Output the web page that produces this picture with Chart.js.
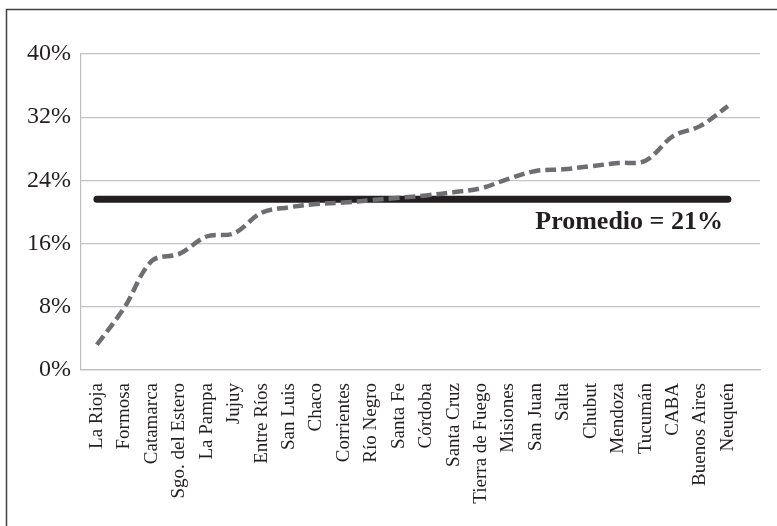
<!DOCTYPE html>
<html lang="es">
<head>
    <meta charset="UTF-8">
    <title>Provincias</title>
    <style>
        body { margin: 0; background: #fff; }
    </style>
</head>
<body>
    <div style="width: 777px; height: 526px;">
        <canvas id="myChart" width="777" height="526"></canvas>
    </div>

    <script src="https://cdn.jsdelivr.net/npm/chart.js"></script>
    <script>
        // provincias (orden del gráfico)
        const provincias = ["La Rioja", "Formosa", "Catamarca", "Sgo. del Estero", "La Pampa", "Jujuy",
            "Entre Ríos", "San Luis", "Chaco", "Corrientes", "Río Negro", "Santa Fe", "Córdoba",
            "Santa Cruz", "Tierra de Fuego", "Misiones", "San Juan", "Salta", "Chubut", "Mendoza",
            "Tucumán", "CABA", "Buenos Aires", "Neuquén"];

        // valores (%)
        const valores = [3.2, 7.9, 13.8, 14.7, 16.9, 17.3, 19.9, 20.6, 21.0, 21.2, 21.5, 21.8, 22.1,
            22.5, 23.0, 24.2, 25.2, 25.4, 25.8, 26.2, 26.5, 29.6, 30.9, 33.4];

        const promedio = 21.6;
        const promedioTexto = "Promedio = 21%";
        const yTicks = [0, 8, 16, 24, 32, 40];

        const serif = "'Liberation Serif', 'Times New Roman', serif";

        // fondo y marco
        const marco = {
            id: "marco",
            beforeDraw(chart) {
                const c = chart.ctx;
                c.save();
                c.fillStyle = "#fff";
                c.fillRect(0, 0, chart.width, chart.height);
                c.strokeStyle = "#404040";
                c.lineWidth = 1.5;
                c.strokeRect(6.5, 9.5, chart.width + 20, chart.height + 20);
                c.restore();
            }
        };

        // etiqueta del promedio
        const etiqueta = {
            id: "etiqueta",
            afterDatasetsDraw(chart) {
                const c = chart.ctx;
                const x = chart.scales.x.getPixelForValue(provincias.length - 1) - 5;
                const y = chart.scales.y.getPixelForValue(promedio) + 23;
                c.save();
                c.font = "bold 26px " + serif;
                c.fillStyle = "#231f20";
                c.textAlign = "right";
                c.textBaseline = "middle";
                c.fillText(promedioTexto, x, y);
                c.restore();
            }
        };

        const ctx = document.getElementById("myChart");

        let myChart = new Chart(ctx, {
            type: "line",
            data: {
                datasets: [{
                    label: "valores",
                    data: valores.map((v, i) => ({ x: i, y: v })),
                    borderColor: "#6d6e71",
                    borderWidth: 4.5,
                    borderDash: [11, 5],
                    pointRadius: 0,
                    tension: 0.35
                }, {
                    label: "promedio",
                    data: [{ x: 0, y: promedio }, { x: provincias.length - 1, y: promedio }],
                    borderColor: "#231f20",
                    borderWidth: 7,
                    borderCapStyle: "round",
                    pointRadius: 0
                }]
            },
            options: {
                responsive: false,
                animation: false,
                layout: {
                    padding: { top: 54, right: 17, bottom: 0, left: 0 }
                },
                plugins: {
                    legend: { display: false },
                    tooltip: { enabled: false }
                },
                scales: {
                    x: {
                        type: "linear",
                        min: -0.58,
                        max: 24.17,
                        afterFit: s => { s.height = 156; },
                        afterBuildTicks: s => { s.ticks = provincias.map((_, i) => ({ value: i })); },
                        grid: { display: false },
                        border: { display: true, color: "#bfbfbf", width: 1.2 },
                        ticks: {
                            autoSkip: false,
                            minRotation: 90,
                            maxRotation: 90,
                            padding: 5,
                            color: "#231f20",
                            font: { family: serif, size: 19 },
                            callback: v => provincias[v]
                        }
                    },
                    y: {
                        min: 0,
                        max: 40,
                        afterFit: s => { s.width = 81; },
                        afterBuildTicks: s => { s.ticks = yTicks.map(v => ({ value: v })); },
                        grid: { color: "#c4c4c4", lineWidth: 1.2, drawTicks: false },
                        border: { display: true, color: "#bfbfbf", width: 1.2 },
                        ticks: {
                            padding: 10,
                            color: "#231f20",
                            font: { family: serif, size: 24 },
                            callback: v => v + "%"
                        }
                    }
                }
            },
            plugins: [marco, etiqueta]
        });
    </script>
</body>
</html>
